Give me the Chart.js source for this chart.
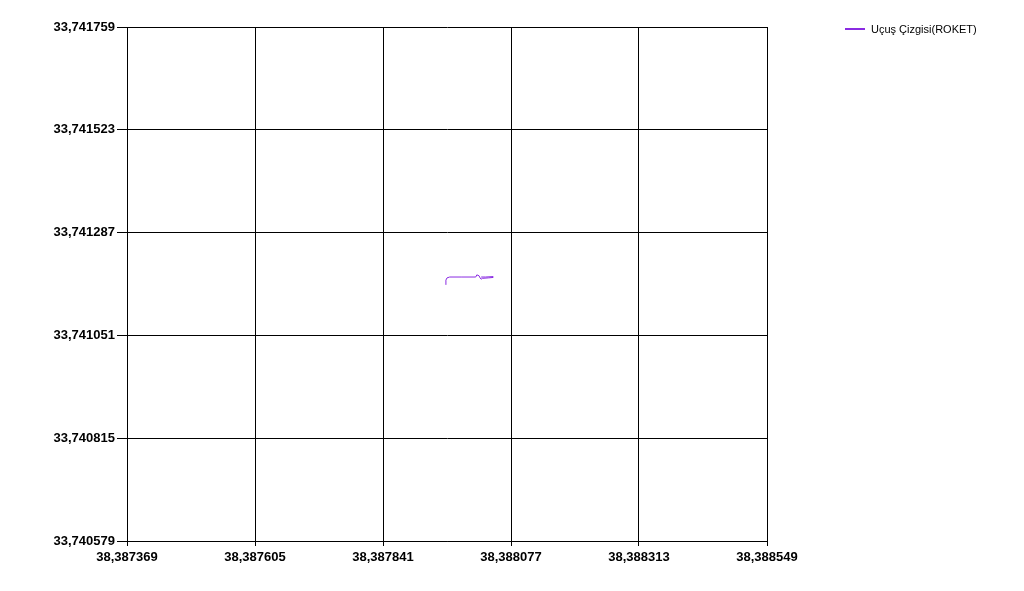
<!DOCTYPE html>
<html><head><meta charset="utf-8">
<script src="https://cdn.jsdelivr.net/npm/chart.js@4/dist/chart.umd.min.js"></script>
<style>
html,body{margin:0;padding:0;background:#fff;}
#wrap{position:relative;width:1024px;height:591px;}
#legend{position:absolute;left:845px;top:23px;font:11px "Liberation Sans",Arial,sans-serif;color:#000;display:flex;align-items:center;}
#legend span.l{display:inline-block;width:20px;height:2px;background:#8A2BE2;margin-right:6px;}
</style></head>
<body><div id="wrap"><canvas id="c" width="1024" height="591"></canvas>
<div id="legend"><span class="l"></span><span id="lt"></span></div></div>
<script>
const seriesName = "Uçuş Çizgisi(ROKET)";
const lonValues = [38.387957, 38.387957, 38.387959, 38.387964, 38.387985, 38.388012, 38.388014, 38.388018, 38.388020, 38.388022, 38.388024, 38.388035, 38.388044, 38.388044, 38.388030, 38.388022];
const latValues = [33.741167, 33.741178, 33.741183, 33.741185, 33.741185, 33.741185, 33.741190, 33.741188, 33.741183, 33.741180, 33.741182, 33.741183, 33.741184, 33.741186, 33.741185, 33.741185];
const xTicks = [38.387369, 38.387605, 38.387841, 38.388077, 38.388313, 38.388549];
const yTicks = [33.740579, 33.740815, 33.741051, 33.741287, 33.741523, 33.741759];

document.getElementById('lt').textContent = seriesName;
const pts = lonValues.map((x,i)=>({x:x,y:latValues[i]}));
const fmt = v => v.toFixed(6).replace('.', ',');
const font = {family:'"Liberation Sans", Arial, sans-serif', size:13, weight:'bold'};
new Chart(document.getElementById('c'), {
  type:'scatter',
  data:{datasets:[{label:seriesName,data:pts,showLine:true,borderColor:'#8A2BE2',borderWidth:1,pointRadius:0,tension:0,fill:false}]},
  options:{
    responsive:false,animation:false,
    layout:{padding:{left:0,top:27,right:257,bottom:0}},
    plugins:{legend:{display:false},tooltip:{enabled:false}},
    scales:{
      x:{type:'linear',min:xTicks[0],max:xTicks[xTicks.length-1],
        afterBuildTicks:s=>{s.ticks=xTicks.map(v=>({value:v}));},
        afterFit:s=>{s.height=50;},
        ticks:{callback:v=>fmt(v),color:'#000',font:font,maxRotation:0,autoSkip:false,padding:4},
        grid:{color:'#000',lineWidth:1,tickLength:5,drawTicks:true},
        border:{color:'#000'}},
      y:{type:'linear',min:yTicks[0],max:yTicks[yTicks.length-1],
        afterBuildTicks:s=>{s.ticks=yTicks.map(v=>({value:v}));},
        afterFit:s=>{s.width=127;},
        ticks:{callback:v=>fmt(v),color:'#000',font:font,autoSkip:false,padding:2},
        grid:{color:'#000',lineWidth:1,tickLength:10,drawTicks:true},
        border:{color:'#000'}}
    }
  }
});
</script></body></html>
